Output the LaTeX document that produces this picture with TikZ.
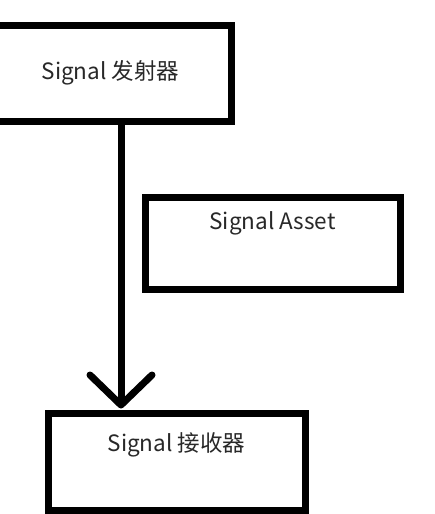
\documentclass[tikz,border=0pt]{standalone}
\usepackage{fontspec}
\setmainfont{Noto Sans CJK SC}
\usepackage{xcolor}
\definecolor{colorn}{RGB}{0,0,0}
\definecolor{textc}{RGB}{40,40,40}
\usepackage{tikz}
\usetikzlibrary{arrows.meta}
\tikzstyle{block} = [line width=7pt, draw=colorn, fill=white, inner sep=0pt, text=textc, font=\fontsize{22.5}{26}\selectfont]
\tikzstyle{tag} = [text=textc, font=\fontsize{22.5}{26}\selectfont, anchor=center]
\tikzstyle{link} = [line width=7pt, draw=colorn, line cap=round, shorten >=1pt, -{Straight Barb[length=30pt,width=62pt,round]}]

\begin{document}
\begin{tikzpicture}[x=1pt,y=-1pt]
    \useasboundingbox (0,0) rectangle (435,514);
    \node[block, minimum width=241pt, minimum height=96pt] (tx) at (110.5,73) {Signal 发射器};
    \node[block, minimum width=255pt, minimum height=92pt, label={[tag, yshift=-30pt]north:Signal Asset}] (asset) at (272.5,243) {};
    \node[block, minimum width=257pt, minimum height=97pt, label={[tag, yshift=-35pt]north:Signal 接收器}] (rx) at (176.5,461.5) {};

    \coordinate (ax) at (121,0);
    \draw[link] (tx.south -| ax) -- (rx.north -| ax);
  \end{tikzpicture}
\end{document}
